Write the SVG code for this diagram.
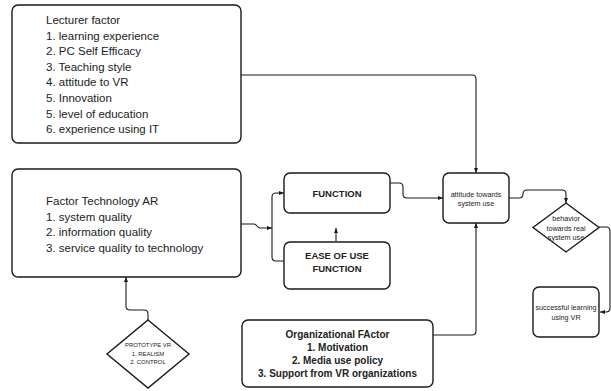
<svg xmlns="http://www.w3.org/2000/svg" width="611" height="391" viewBox="0 0 611 391">
<style>
.box{fill:#fff;stroke:#1a1a1a;stroke-width:1.4}
.con{fill:none;stroke:#1a1a1a;stroke-width:1.1}
.t{font-family:"Liberation Sans",Arial,sans-serif;fill:#222}
.reg{font-size:11.5px}
.b{font-weight:bold;font-size:9.5px;text-anchor:middle}
.ob{font-weight:bold;font-size:10px;text-anchor:middle}
.s{font-size:7.2px;text-anchor:middle}
.xs{font-size:5.9px;text-anchor:middle}
</style>
<defs>
<marker id="ar" viewBox="0 0 10 10" refX="10" refY="5" markerWidth="5" markerHeight="5" orient="auto" markerUnits="userSpaceOnUse">
<path d="M0,1 L10,5 L0,9 z" fill="#1a1a1a"/>
</marker>
</defs>
<rect width="611" height="391" fill="#fff"/>
<g id="connectors">
<path class="con" d="M241,75 H472 Q476,75 476,79 V173" marker-end="url(#ar)"/>
<path class="con" d="M241,224 H254 C257,224 257,228 260,228 H272" marker-end="url(#ar)"/>
<path class="con" d="M284,261 H276 Q272,261 272,257 V197 Q272,193 276,193 H284" marker-end="url(#ar)"/>
<path class="con" d="M336,241 V228" marker-end="url(#ar)"/>
<path class="con" d="M390,183 H399 Q403,183 403,187 V194 Q403,198 407,198 H443" marker-end="url(#ar)"/>
<path class="con" d="M509,198 H519 Q523,198 523,194 Q523,190 527,190 H562 Q566,190 566,194 V203" marker-end="url(#ar)"/>
<path class="con" d="M599,227 H606 Q610,227 610,231 V308 Q610,312 606,312 H600" marker-end="url(#ar)"/>
<path class="con" d="M433,335 H472 Q476,335 476,331 V223" marker-end="url(#ar)"/>
<path class="con" d="M148,320 V314 Q148,310 144,310 H130 Q126,310 126,306 V277" marker-end="url(#ar)"/>
</g>
<g id="lecturer">
<rect class="box" x="12" y="5" width="229" height="138" rx="6"/>
<text class="t reg" x="46" y="24">Lecturer factor</text>
<text class="t reg" x="46" y="39.5">1. learning experience</text>
<text class="t reg" x="46" y="55">2. PC Self Efficacy</text>
<text class="t reg" x="46" y="70.5">3. Teaching style</text>
<text class="t reg" x="46" y="86">4. attitude to VR</text>
<text class="t reg" x="46" y="102">5. Innovation</text>
<text class="t reg" x="46" y="117.5">5. level of education</text>
<text class="t reg" x="46" y="133">6. experience using IT</text>
</g>
<g id="technology">
<rect class="box" x="12" y="169" width="229" height="108" rx="6"/>
<text class="t reg" x="46" y="205">Factor Technology AR</text>
<text class="t reg" x="46" y="220.5">1. system quality</text>
<text class="t reg" x="46" y="236">2. information quality</text>
<text class="t reg" x="46" y="251.5">3. service quality to technology</text>
</g>
<g id="function">
<rect class="box" x="284" y="173" width="106" height="40" rx="6"/>
<text class="t b" x="337" y="196.5">FUNCTION</text>
</g>
<g id="ease">
<rect class="box" x="284" y="242" width="106" height="47" rx="6"/>
<text class="t b" x="337" y="258.5">EASE OF USE</text>
<text class="t b" x="337" y="271.5">FUNCTION</text>
</g>
<g id="attitude">
<rect class="box" x="443" y="173" width="66" height="50" rx="6"/>
<text class="t s" x="476" y="196.5">attitude towards</text>
<text class="t s" x="476" y="205.5">system use</text>
</g>
<g id="behavior">
<path class="box" d="M566,203 L599,227.5 L566,252 L533,227.5 z"/>
<text class="t s" x="566" y="221">behavior</text>
<text class="t s" x="566" y="230.5">towards real</text>
<text class="t s" x="566" y="240">system use</text>
</g>
<g id="success">
<rect class="box" x="533" y="287" width="66" height="50" rx="6"/>
<text class="t s" x="566" y="310">successful learning</text>
<text class="t s" x="566" y="319.5">using VR</text>
</g>
<g id="organizational">
<rect class="box" x="242" y="320" width="191" height="67" rx="6"/>
<text class="t ob" x="337.5" y="338">Organizational FActor</text>
<text class="t ob" x="337.5" y="351">1. Motivation</text>
<text class="t ob" x="337.5" y="364">2. Media use policy</text>
<text class="t ob" x="337.5" y="377">3. Support from VR organizations</text>
</g>
<g id="prototype">
<path class="box" d="M148,320 L189,354 L148,388 L107,354 z"/>
<text class="t xs" x="148" y="347">PROTOTYPE VR</text>
<text class="t xs" x="148" y="355.5">1. REALISM</text>
<text class="t xs" x="148" y="364">2. CONTROL</text>
</g>
</svg>
